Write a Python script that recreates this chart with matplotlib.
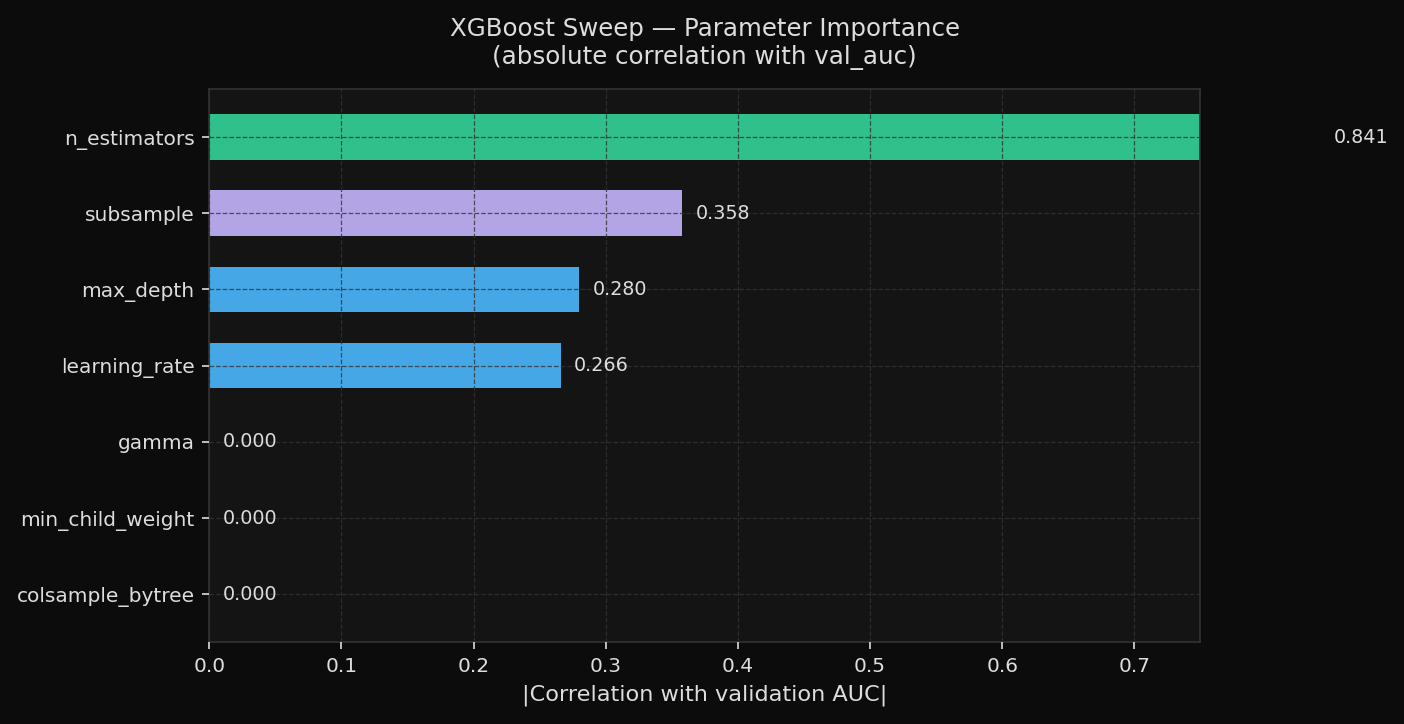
import numpy as np
import matplotlib
matplotlib.use('Agg')
import matplotlib.pyplot as plt

# Datos
params = ['colsample_bytree', 'min_child_weight', 'gamma', 'learning_rate',
          'max_depth', 'subsample', 'n_estimators']
importance = [0.000, 0.000, 0.000, 0.266, 0.280, 0.358, 0.841]
bar_colors = ['#45a7e6', '#45a7e6', '#45a7e6', '#45a7e6',
              '#45a7e6', '#b3a4e6', '#2fc08b']

text_color = '#dddddd'

fig, ax = plt.subplots(figsize=(9.36, 4.827), dpi=150)
fig.patch.set_facecolor('#0c0c0c')
ax.set_facecolor('#141414')

y = np.arange(len(params))
ax.barh(y, importance, height=0.6, color=bar_colors)

for yi, v in zip(y, importance):
    ax.text(v + 0.01, yi, f'{v:.3f}', va='center', ha='left',
            color=text_color, fontsize=9.2, clip_on=False)

ax.set_xlim(0, 0.75)
ax.set_yticks(y)
ax.set_yticklabels(params)
ax.set_xlabel('|Correlation with validation AUC|', color=text_color, fontsize=10.75)
ax.set_title('XGBoost Sweep — Parameter Importance\n(absolute correlation with val_auc)',
             color=text_color, fontsize=11.75, pad=12)

ax.tick_params(colors=text_color, labelsize=9.7)
for s in ax.spines.values():
    s.set_color('#333333')
ax.grid(True, linestyle='--', linewidth=0.6, color='#333333', alpha=0.8)
ax.set_axisbelow(False)

fig.subplots_adjust(left=0.149, right=0.855, top=0.877, bottom=0.113)
fig.savefig('out.png', dpi=150, facecolor=fig.get_facecolor())
